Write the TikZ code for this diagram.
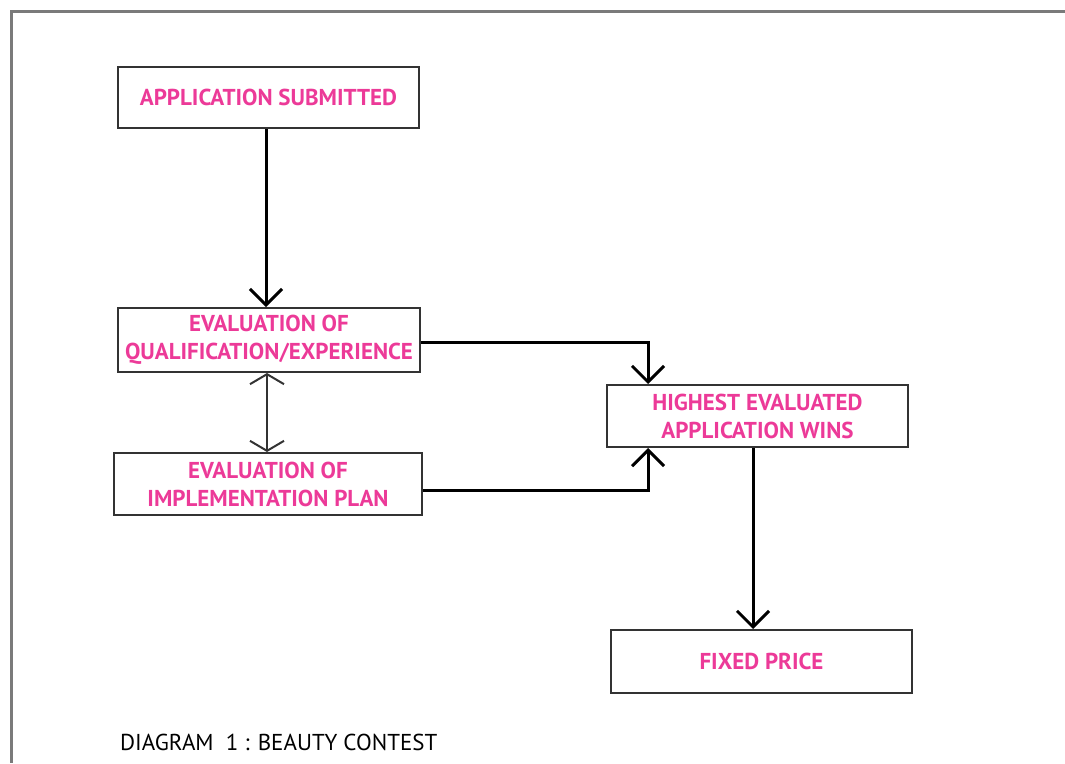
\documentclass[tikz,border=0pt]{standalone}
\usepackage{fontspec}
\setmainfont{PT Sans}
\usetikzlibrary{arrows.meta}
\definecolor{pinktext}{HTML}{EC3A98}
\definecolor{boxline}{HTML}{333333}
\definecolor{framegray}{HTML}{7A7A7A}
\tikzset{
  stagebox/.style={draw=boxline, line width=2pt, rectangle, inner sep=0pt,
    text=pinktext, font=\fontsize{23}{28}\selectfont\bfseries, align=center},
  flowarrow/.style={draw=black, line width=3pt,
    -{Straight Barb[length=16pt,width=32pt,line width=3pt]}},
  bothways/.style={draw=black!80, line width=2pt,
    {Straight Barb[length=10pt,width=34pt,line width=2pt]}-{Straight Barb[length=10pt,width=34pt,line width=2pt]}},
  framerule/.style={draw=framegray, line width=3pt}
}
\begin{document}
\begin{tikzpicture}[x=1pt,y=-1pt]
\useasboundingbox (0,0) rectangle (1065,763);
\coordinate (ftl) at (11,11);
\coordinate (ftr) at (1065,11);
\coordinate (fbl) at (11,763);
\draw[framerule] (ftr) -- (ftl) -- (fbl);

\node[stagebox, minimum width=301pt, minimum height=61pt] (submit) at (268.5,97.5) {APPLICATION SUBMITTED};
\node[stagebox, minimum width=302pt, minimum height=64pt] (qual) at (269,340) {EVALUATION OF\\QUALIFICATION/EXPERIENCE};
\node[stagebox, minimum width=308pt, minimum height=62pt] (impl) at (268,484) {EVALUATION OF\\IMPLEMENTATION PLAN};
\node[stagebox, minimum width=301pt, minimum height=62pt] (wins) at (757.5,416) {HIGHEST EVALUATED\\APPLICATION WINS};
\node[stagebox, minimum width=301pt, minimum height=63pt] (price) at (761.5,661.5) {FIXED PRICE};

\node[anchor=base west, inner sep=0pt, font=\fontsize{23}{27}\selectfont] (caption) at (120,750) {DIAGRAM~~1 : BEAUTY CONTEST};

\coordinate (qjoin) at (648,342);
\coordinate (ijoin) at (648,490);

\draw[flowarrow] (submit.south -| 266,0) -- (qual.north -| 266,0);
\draw[flowarrow] (qual.east |- qjoin) -- (qjoin) -- (qjoin |- wins.north);
\draw[flowarrow] (impl.east |- ijoin) -- (ijoin) -- (ijoin |- wins.south);
\draw[bothways] (qual.south -| 267,0) -- (impl.north -| 267,0);
\draw[flowarrow] (wins.south -| 753,0) -- (price.north -| 753,0);
\end{tikzpicture}
\end{document}
